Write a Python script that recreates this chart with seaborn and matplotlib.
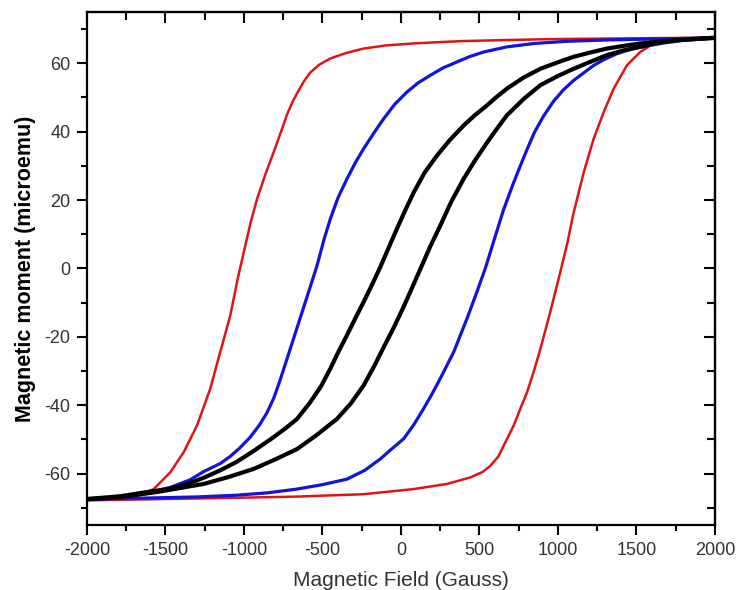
import matplotlib
matplotlib.use("Agg")
import matplotlib.pyplot as plt
import seaborn as sns
import pandas as pd
from matplotlib.ticker import MultipleLocator

# ---- data (field in Gauss, moment in microemu) ----
red_up_H = [-2000, -1850, -1750, -1682, -1575, -1469, -1384, -1299, -1215, -1151, -1087, -1040,
            -1000, -960, -917, -860, -811, -760, -726, -690, -662, -620, -578, -520, -450, -350,
            -238, -100, 81, 250, 399, 675, 1000, 1500, 2000]
red_up_M = [-67.6, -67.3, -67.0, -66.5, -64.5, -59.6, -53.7, -45.9, -35.2, -24.4, -13.7, -3.0,
            5.0, 13.0, 20.3, 28.0, 34.0, 40.5, 45.0, 48.8, 51.2, 54.6, 57.3, 59.6, 61.4, 63.0,
            64.3, 65.2, 65.8, 66.2, 66.5, 66.8, 67.1, 67.3, 67.5]

red_dn_H = [-2000, -1500, -1000, -662, -238, 81, 293, 441, 520, 569, 620, 654, 690, 718, 760,
            803, 850, 888, 951, 1015, 1060, 1100, 1164, 1227, 1291, 1355, 1439, 1524, 1609,
            1700, 1800, 2000]
red_dn_M = [-67.8, -67.4, -67.0, -66.7, -66.0, -64.5, -63.0, -61.1, -59.5, -57.7, -55.0, -51.8,
            -48.5, -45.9, -41.0, -36.2, -29.5, -23.5, -12.7, -1.0, 7.5, 16.4, 28.1, 37.9, 45.7,
            52.6, 59.4, 63.3, 65.8, 66.7, 67.1, 67.5]

blue_up_H = [-2000, -1850, -1682, -1575, -1469, -1344, -1257, -1150, -1089, -1025, -962, -905,
             -855, -811, -771, -725, -675, -600, -535, -490, -450, -400, -344, -290, -238, -170,
             -110, -40, 38, 110, 187, 270, 357, 440, 527, 675, 850, 1050, 1300, 1600, 2000]
blue_up_M = [-67.5, -67.0, -66.2, -65.2, -64.0, -61.8, -59.4, -57.0, -55.0, -52.4, -49.4, -46.0,
             -42.3, -38.0, -32.8, -26.3, -19.2, -8.5, 0.8, 8.5, 14.5, 20.8, 26.2, 31.0, 35.0,
             39.8, 43.8, 48.0, 51.6, 54.3, 56.5, 58.7, 60.4, 62.0, 63.3, 64.8, 65.8, 66.4, 66.8,
             67.1, 67.4]

blue_dn_H = [-2000, -1600, -1300, -1050, -850, -662, -500, -344, -230, -132, -60, 17, 80, 144,
             200, 250, 336, 420, 484, 537, 599, 652, 715, 760, 801, 850, 906, 970, 1034, 1100,
             1161, 1225, 1289, 1376, 1470, 1567, 1682, 1800, 2000]
blue_dn_M = [-67.5, -67.1, -66.8, -66.3, -65.6, -64.5, -63.2, -61.6, -59.0, -55.7, -52.8, -49.8,
             -45.8, -41.0, -36.5, -32.2, -24.4, -14.7, -6.8, 0.0, 9.2, 17.0, 24.8, 30.0, 34.6,
             39.8, 44.4, 48.8, 52.2, 55.0, 57.1, 59.3, 61.0, 62.8, 64.2, 65.1, 66.0, 66.7, 67.4]

black_up_H = [-2000, -1788, -1650, -1469, -1360, -1257, -1150, -1045, -940, -832, -740, -662,
              -578, -510, -450, -400, -344, -290, -238, -185, -130, -80, -25, 30, 81, 150, 229,
              310, 399, 470, 548, 610, 675, 780, 888, 1000, 1100, 1210, 1312, 1420, 1524, 1650,
              1800, 2000]
black_up_M = [-67.4, -66.6, -65.6, -64.4, -63.0, -61.2, -59.0, -56.5, -53.4, -50.0, -46.9, -44.0,
              -39.1, -34.5, -29.3, -24.5, -19.5, -14.5, -9.8, -4.8, 0.6, 5.9, 11.7, 17.3, 22.2,
              28.0, 33.0, 37.5, 41.8, 44.8, 47.7, 50.2, 52.6, 55.8, 58.4, 60.3, 61.9, 63.2, 64.3,
              65.1, 65.8, 66.4, 66.9, 67.4]

black_dn_H = [-2000, -1800, -1575, -1420, -1257, -1100, -938, -800, -662, -540, -408, -320,
              -238, -170, -110, -45, 17, 70, 123, 185, 250, 320, 399, 470, 548, 610, 675, 780,
              888, 1000, 1100, 1210, 1312, 1420, 1524, 1673, 1800, 2000]
black_dn_M = [-67.5, -66.9, -65.5, -64.3, -63.0, -61.0, -58.6, -55.8, -52.8, -48.8, -44.0, -39.5,
              -34.2, -28.5, -23.0, -17.2, -11.2, -5.7, -0.2, 6.3, 12.5, 19.5, 26.2, 31.5, 36.8,
              40.8, 44.8, 49.5, 53.6, 56.3, 58.4, 60.5, 62.4, 63.8, 64.8, 66.3, 66.9, 67.5]

x_ticks = [-2000, -1500, -1000, -500, 0, 500, 1000, 1500, 2000]
y_ticks = [-60, -40, -20, 0, 20, 40, 60]

# ---- styling ----
sns.set_theme(style="white")
plt.rcParams['font.family'] = ['Liberation Sans', 'DejaVu Sans']

fig = plt.figure(figsize=(7.39, 5.90), dpi=100)
ax = fig.add_axes([0.1177, 0.1102, 0.8498, 0.8695])

branches = [
    (red_up_H, red_up_M, "#e01414", 1.8),
    (red_dn_H, red_dn_M, "#e01414", 1.8),
    (blue_up_H, blue_up_M, "#1414d8", 2.3),
    (blue_dn_H, blue_dn_M, "#1414d8", 2.3),
    (black_up_H, black_up_M, "#000000", 3.0),
    (black_dn_H, black_dn_M, "#000000", 3.0),
]
for H, M, col, lw in branches:
    df = pd.DataFrame({"H": H, "M": M})
    sns.lineplot(data=df, x="H", y="M", ax=ax, color=col, linewidth=lw,
                 sort=False, estimator=None)

ax.set_xlim(-2000, 2000)
ax.set_ylim(-75, 75)
ax.set_xticks(x_ticks)
ax.set_yticks(y_ticks)
ax.set_xticklabels([str(v) for v in x_ticks])
ax.set_yticklabels([str(v) for v in y_ticks])
ax.xaxis.set_minor_locator(MultipleLocator(250))
ax.yaxis.set_minor_locator(MultipleLocator(10))

for s in ax.spines.values():
    s.set_visible(True)
    s.set_color("black")
    s.set_linewidth(1.6)

ax.tick_params(axis="both", which="major", direction="out", length=7, width=1.5,
               labelsize=13, labelcolor="#333333", pad=5, color="black",
               bottom=True, left=True, top=False, right=False)
ax.tick_params(axis="both", which="minor", direction="out", length=4, width=1.5,
               color="black", bottom=True, left=True, top=False, right=False)

# inward ticks on the top and right edges
secx = ax.secondary_xaxis("top")
secx.set_xticks(x_ticks)
secx.xaxis.set_minor_locator(MultipleLocator(250))
secx.tick_params(which="major", direction="in", length=8, width=1.5, labeltop=False, color="black")
secx.tick_params(which="minor", direction="in", length=6, width=1.5, color="black")
secx.spines["top"].set_linewidth(1.6)
secy = ax.secondary_yaxis("right")
secy.set_yticks(y_ticks)
secy.yaxis.set_minor_locator(MultipleLocator(10))
secy.tick_params(which="major", direction="in", length=8, width=1.5, labelright=False, color="black")
secy.tick_params(which="minor", direction="in", length=6, width=1.5, color="black")
secy.spines["right"].set_linewidth(1.6)

ax.set_xlabel("Magnetic Field (Gauss)", fontsize=15, color="#333333", labelpad=9)
ax.set_ylabel("Magnetic moment (microemu)", fontsize=15.5, fontweight="bold",
              color="black", labelpad=6)

fig.savefig("out.png", dpi=100)
